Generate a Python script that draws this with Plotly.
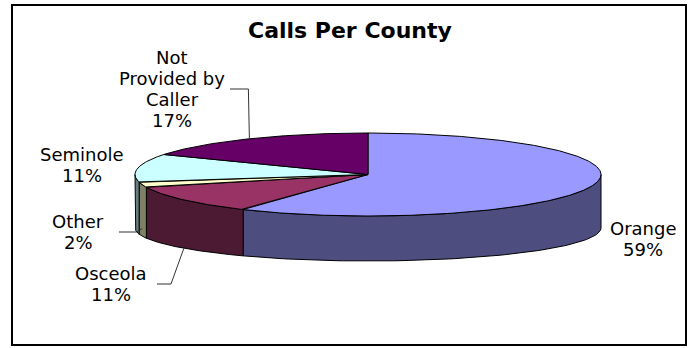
import numpy as np
import plotly.graph_objects as go

# ---------------- data ----------------
categories = ["Orange", "Osceola", "Other", "Seminole", "Not Provided by Caller"]
label_names = ["Orange", "Osceola", "Other", "Seminole", "Not<br>Provided by<br>Caller"]
values = [59, 11, 2, 11, 17]
title_text = "Calls Per County"

top_colors = ["#9999FF", "#993366", "#FFFFCC", "#CCFFFF", "#660066"]
side_colors = ["#4D4D80", "#4D1A33", "#808066", "#668080", "#330033"]

# ---------------- geometry (layout) ----------------
W, H = 691, 348
CX, CY, RX, RY = 368.0, 174.5, 233.0, 41.5       # top ellipse
CYB, RYB = 228.0, 33.0                             # bottom ellipse


def top_pt(phi_deg):
    p = np.radians(phi_deg)
    return CX + RX * np.sin(p), CY - RY * np.cos(p)


def bot_pt(phi_deg):
    p = np.radians(phi_deg)
    return CX + RX * np.sin(p), CYB - RYB * np.cos(p)


total = float(sum(values))
bounds = np.concatenate([[0.0], np.cumsum(values) / total * 360.0])

fig = go.Figure()

# side faces (front half only: 90..270 deg clockwise from top)
for i, v in enumerate(values):
    a, b = bounds[i], bounds[i + 1]
    s, e = max(a, 90.0), min(b, 270.0)
    if s >= e:
        continue
    ts = np.linspace(s, e, 80)
    tx, ty = top_pt(ts)
    bx, by = bot_pt(ts[::-1])
    xs = np.concatenate([tx, bx, tx[:1]])
    ys = np.concatenate([ty, by, ty[:1]])
    fig.add_trace(go.Scatter(x=xs, y=ys, mode="lines", fill="toself",
                             fillcolor=side_colors[i],
                             line=dict(color="black", width=1),
                             hoverinfo="skip", showlegend=False))

# top faces
for i, v in enumerate(values):
    a, b = bounds[i], bounds[i + 1]
    ts = np.linspace(a, b, max(8, int((b - a) * 2)))
    tx, ty = top_pt(ts)
    xs = np.concatenate([[CX], tx, [CX]])
    ys = np.concatenate([[CY], ty, [CY]])
    fig.add_trace(go.Scatter(x=xs, y=ys, mode="lines", fill="toself",
                             fillcolor=top_colors[i],
                             line=dict(color="black", width=1),
                             hoverinfo="skip", showlegend=False))

# ---------------- labels ----------------
# label centre (x, first-line y) and leader lines
label_pos = {
    "Orange": (643, 228),
    "Osceola": (111, 273),
    "Other": (78, 221),
    "Seminole": (82, 154),
    "Not Provided by Caller": (172, 57),
}
LINE_H = 21
FONT = dict(family="DejaVu Sans", size=18, color="black")

annotations = []
for i, cat in enumerate(categories):
    pct = f"{round(values[i] / total * 100)}%"
    lines = label_names[i].split("<br>") + [pct]
    x0, y0 = label_pos[cat]
    for k, ln in enumerate(lines):
        annotations.append(dict(x=x0, y=y0 + k * LINE_H, xref="x", yref="y",
                                text=ln, showarrow=False, font=FONT,
                                xanchor="center", yanchor="middle"))

annotations.append(dict(x=350, y=30, xref="x", yref="y", text="<b>" + title_text + "</b>",
                        showarrow=False, xanchor="center", yanchor="middle",
                        font=dict(family="DejaVu Sans", size=22, color="black")))


def mid(i):
    return (bounds[i] + bounds[i + 1]) / 2.0


def side_anchor(i, frac):
    m = mid(i)
    tx, ty = top_pt(m)
    bx, by = bot_pt(m)
    return tx, ty + (by - ty) * frac


leaders = []
# Not Provided by Caller -> top edge
ax, ay = top_pt(mid(4))
leaders.append(([230, ax - 1, ax], [89, 89, ay]))
# Other -> side
ax, ay = side_anchor(2, 0.85)
leaders.append(([119, ax - 6, ax], [232, 232, ay]))
# Osceola -> bottom edge
ax, ay = side_anchor(1, 1.0)
leaders.append(([157, 171, ax], [284, 284, ay]))

for lx, ly in leaders:
    fig.add_trace(go.Scatter(x=lx, y=ly, mode="lines",
                             line=dict(color="#333333", width=1),
                             hoverinfo="skip", showlegend=False))

fig.update_layout(
    width=W, height=H,
    margin=dict(l=0, r=0, t=0, b=0),
    paper_bgcolor="white", plot_bgcolor="white",
    xaxis=dict(range=[0, W], visible=False, fixedrange=True),
    yaxis=dict(range=[H, 0], visible=False, fixedrange=True),
    annotations=annotations,
    shapes=[dict(type="rect", xref="x", yref="y", x0=12, y0=5, x1=686, y1=345,
                 line=dict(color="black", width=2), fillcolor="rgba(0,0,0,0)")],
)

fig.write_html("out.html", config={"displayModeBar": False})
